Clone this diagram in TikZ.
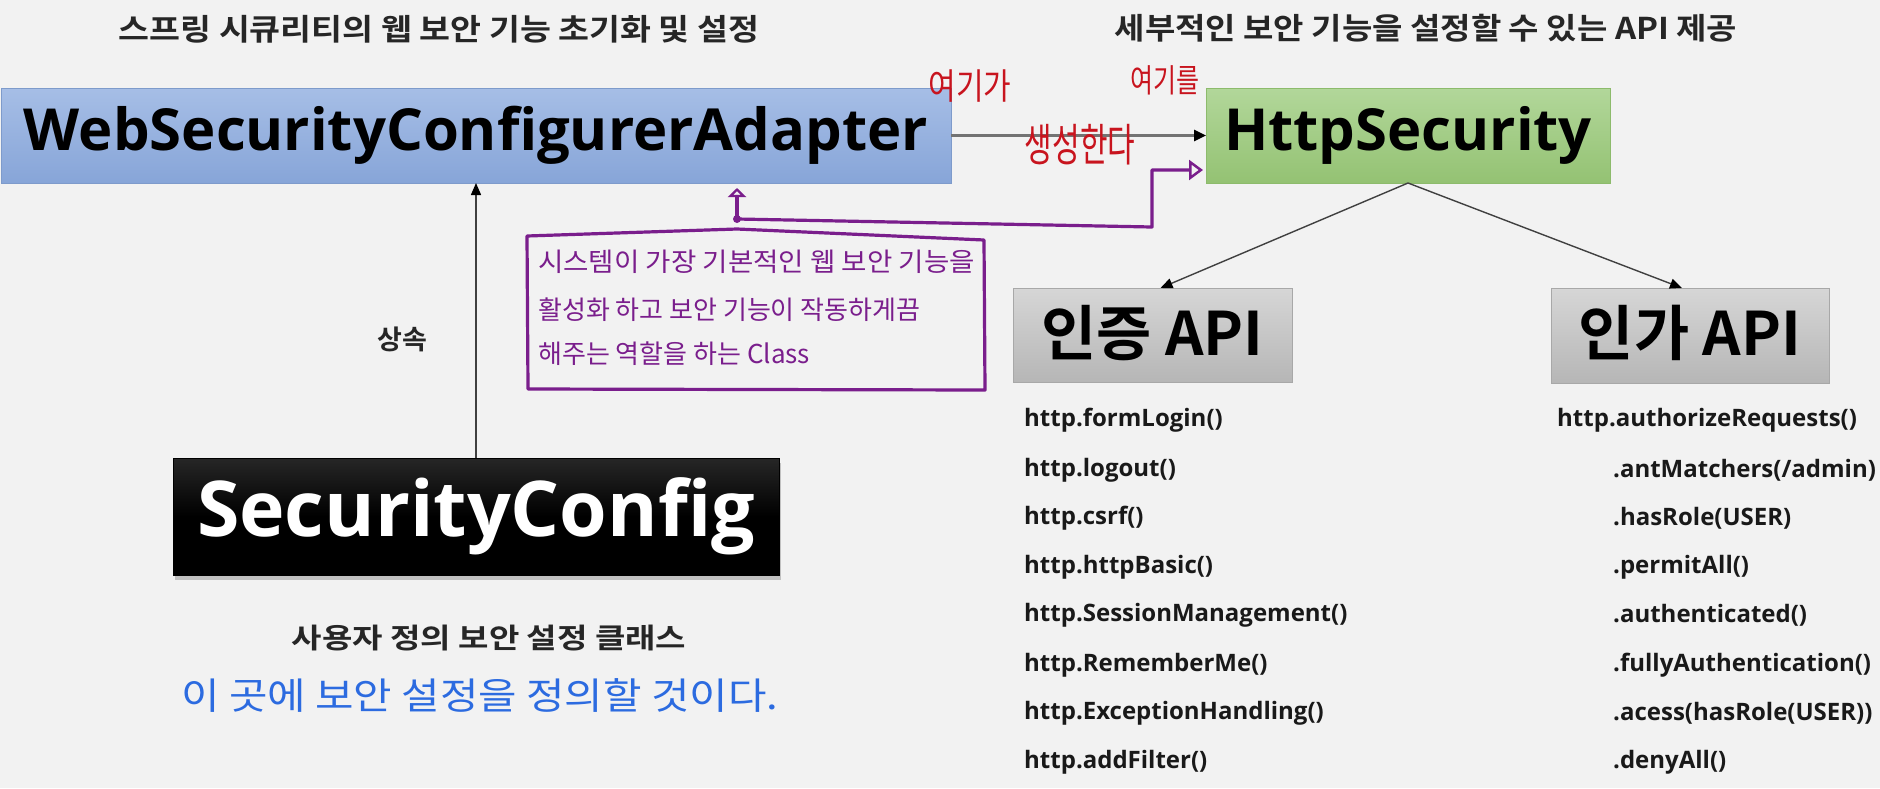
\documentclass[tikz,border=0pt]{standalone}
\usepackage{fontspec}
\setmainfont{Open Sans}
\newfontfamily\kr{Noto Sans CJK KR}
\newfontfamily\krb{Noto Sans CJK KR Bold}
\usetikzlibrary{arrows.meta,shadows,calc}
\newcommand\fsz[1]{\fontsize{#1pt}{#1pt}\selectfont}
\definecolor{bgc}{HTML}{F2F2F2}
\definecolor{bluetop}{HTML}{A6BEE6}
\definecolor{bluebot}{HTML}{87A5D8}
\definecolor{blueline}{HTML}{7E9BCB}
\definecolor{greentop}{HTML}{B2D79A}
\definecolor{greenbot}{HTML}{94C273}
\definecolor{greenline}{HTML}{8DBB6C}
\definecolor{graytop}{HTML}{D6D6D6}
\definecolor{graybot}{HTML}{B6B6B6}
\definecolor{grayline}{HTML}{A8A8A8}
\definecolor{titlec}{HTML}{262626}
\definecolor{pen}{HTML}{7A1E8C}
\definecolor{redpen}{HTML}{C8141E}
\definecolor{bluepen}{HTML}{2C6BE0}
\tikzset{
  box/.style={rectangle, inner sep=0pt, outer sep=0pt, line width=1pt},
  bluebox/.style={box, draw=blueline, top color=bluetop, bottom color=bluebot},
  greenbox/.style={box, draw=greenline, top color=greentop, bottom color=greenbot},
  graybox/.style={box, draw=grayline, top color=graytop, bottom color=graybot},
  blackbox/.style={box, draw=black, top color=black!85, bottom color=black, middle color=black,
     drop shadow={shadow xshift=2pt, shadow yshift=-5pt, opacity=0.35, fill=black!60}},
  conn/.style={line width=2.5pt, draw=black!55, -{Triangle[length=12pt,width=11pt,color=black]}},
  thin/.style={line width=1.4pt, draw=black!75, -{Triangle[length=12pt,width=10pt,color=black]}},
  txt/.style={inner sep=0pt, outer sep=0pt, text=titlec},
  item/.style={inner sep=0pt, anchor=west, text=black!90, font=\fsz{24}\bfseries},
  penline/.style={draw=pen, line width=3.2pt, line cap=round, line join=round},
  pentext/.style={inner sep=0pt, anchor=west, text=pen, font=\kr\fsz{26}},
}
\begin{document}
\begin{tikzpicture}[x=1pt,y=-1pt]
\fill[bgc] (0,0) rectangle (1880,788);
\useasboundingbox (0,0) rectangle (1880,788);

% titles
\node[txt, font=\krb\fsz{30}] (t1) at (439,29) {\scalebox{1.12}[1]{스프링 시큐리티의 웹 보안 기능 초기화 및 설정}};
\node[txt, font=\krb\fsz{30}] (t2) at (1426,28) {\scalebox{1.1}[1]{세부적인 보안 기능을 설정할 수 있는 API 제공}};

% main boxes
\node[bluebox, minimum width=950pt, minimum height=95pt] (wsca) at (476,135.5) {};
\node[txt, text=black, font=\fsz{58}\bfseries] (wscat) at (wsca) {WebSecurityConfigurerAdapter};
\node[greenbox, minimum width=404pt, minimum height=95pt] (http) at (1408,135.5) {};
\node[txt, text=black, font=\fsz{58}\bfseries] (httpt) at (http) {HttpSecurity};
\node[graybox, minimum width=279pt, minimum height=94pt] (authn) at (1152.5,335) {};
\node[txt, text=black, font=\krb\fsz{60}] (authnt) at (1152.5,333) {인증 API};
\node[graybox, minimum width=278pt, minimum height=95pt] (authz) at (1690,335.5) {};
\node[txt, text=black, font=\krb\fsz{60}] (authzt) at (1690,333) {인가 API};
\node[blackbox, minimum width=606pt, minimum height=117pt] (sc) at (476,516.5) {};
\node[txt, text=white, font=\fsz{77}\bfseries] (sct) at (sc) {SecurityConfig};

% labels
\node[txt, font=\krb\fsz{27}] (inh) at (402,339) {상속};
\node[txt, font=\krb\fsz{28}] (scl) at (489,638) {\scalebox{1.18}[1]{사용자 정의 보안 설정 클래스}};

% connectors
\draw[conn] (wsca.east) -- (http.west);
\draw[thin] (sc.north) -- (wsca.south);
\draw[thin] (http.south) -- ($(authn.north)+(8,0)$);
\draw[thin] (http.south) -- ($(authz.north)+(-8,0)$);

% lists
\node[item] (l1) at (1024,420) {http.formLogin()};
\node[item] (l2) at (1024,470) {http.logout()};
\node[item] (l3) at (1024,518) {http.csrf()};
\node[item] (l4) at (1024,567) {http.httpBasic()};
\node[item] (l5) at (1024,615) {http.SessionManagement()};
\node[item] (l6) at (1024,665) {http.RememberMe()};
\node[item] (l7) at (1024,713) {http.ExceptionHandling()};
\node[item] (l8) at (1024,762) {http.addFilter()};
\node[item] (r1) at (1557,420) {http.authorizeRequests()};
\node[item] (r2) at (1613,470) {.antMatchers(/admin)};
\node[item] (r3) at (1613,518) {.hasRole(USER)};
\node[item] (r4) at (1613,567) {.permitAll()};
\node[item] (r5) at (1613,615) {.authenticated()};
\node[item] (r6) at (1613,665) {.fullyAuthentication()};
\node[item] (r7) at (1613,713) {.acess(hasRole(USER))};
\node[item] (r8) at (1613,762) {.denyAll()};

% red handwriting
\node[inner sep=0pt, text=redpen, font=\kr\fsz{30}] (h1) at (970,86) {\scalebox{1}[1.2]{여기가}};
\node[inner sep=0pt, text=redpen, font=\kr\fsz{30}] (h2) at (1080,145) {\scalebox{1}[1.5]{생성한다}};
\node[inner sep=0pt, text=redpen, font=\kr\fsz{25}] (h3) at (1165,80) {\scalebox{1}[1.3]{여기를}};

% purple annotation
\draw[penline] (527,236) -- (737,229) -- (984,240) -- (985,390) -- (528,389) -- cycle;
\node[pentext] (p1) at (538,262) {\scalebox{1.06}[1]{시스템이 가장 기본적인 웹 보안 기능을}};
\node[pentext] (p2) at (538,310) {활성화 하고 보안 기능이 작동하게끔};
\node[pentext] (p3) at (538,354) {해주는 역할을 하는 Class};
\coordinate (pdot) at (737,219);
\coordinate (pturn) at (1152,227);
\coordinate (pup) at (1152,170);
\fill[pen] (pdot) circle (4pt);
\draw[penline, -{Triangle[open,length=9pt,width=18pt,line width=2.5pt]}, shorten >=5pt] (pdot) -- (pdot |- wsca.south);
\draw[penline, -{Triangle[open,length=14pt,width=20pt,line width=2.5pt]}, shorten >=3pt] (pdot) -- (pturn) -- (pup) -- (pup -| http.west);

% blue handwriting
\node[inner sep=0pt, anchor=west, text=bluepen, font=\kr\fsz{37}] (bh) at (181,695) {\scalebox{1.13}[1]{이 곳에 보안 설정을 정의할 것이다.}};
\end{tikzpicture}
\end{document}
